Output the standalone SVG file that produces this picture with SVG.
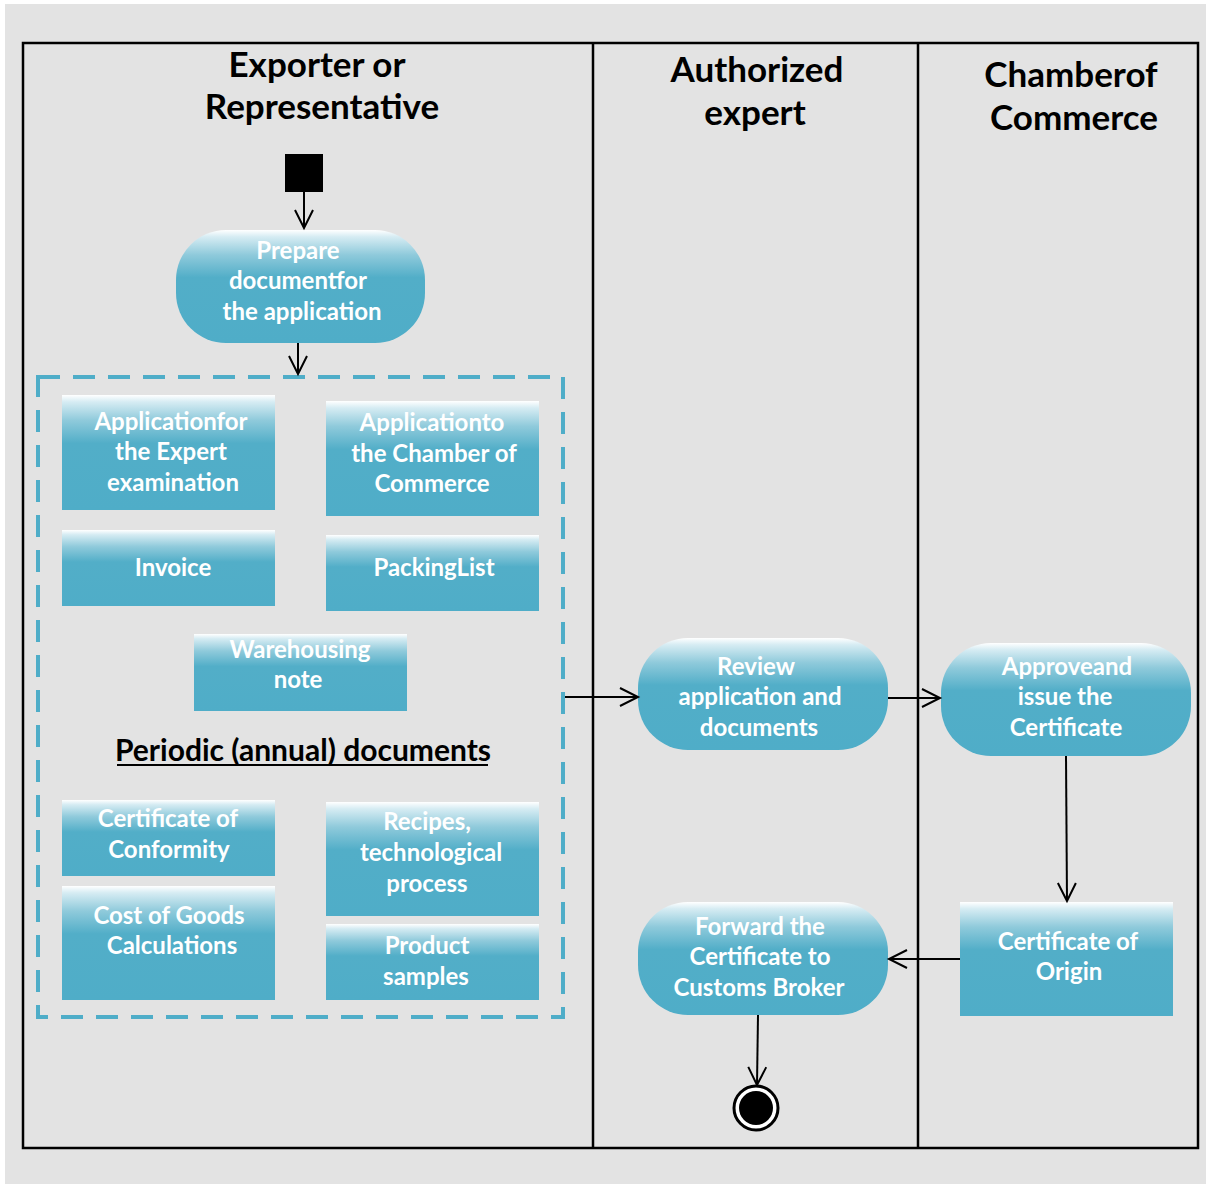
<svg xmlns="http://www.w3.org/2000/svg" width="1206" height="1184" viewBox="0 0 1206 1184">
  <defs>
    <linearGradient id="fillGrad" x1="0" y1="0" x2="0" y2="1">
      <stop offset="0" stop-color="#ffffff"/>
      <stop offset="0.06" stop-color="#d6ecf3"/>
      <stop offset="0.22" stop-color="#8fcadb"/>
      <stop offset="0.42" stop-color="#52aec8"/>
      <stop offset="1" stop-color="#4fadc8"/>
    </linearGradient>
    <marker id="arrow" markerUnits="userSpaceOnUse" markerWidth="24" markerHeight="24" refX="19" refY="10" orient="auto">
      <path d="M1,1 L19,10 L1,19" fill="none" stroke="#000" stroke-width="2"/>
    </marker>
    <style>
      .title { font-family: Lato, "Open Sans", "Liberation Sans", sans-serif; font-weight: 700; font-size: 35px; fill: #000; text-anchor: middle; }
      .lbl { font-family: Lato, "Open Sans", "Liberation Sans", sans-serif; font-weight: 700; font-size: 24px; fill: #ffffff; text-anchor: middle; }
      .act { fill: url(#fillGrad); }
      .doc { fill: url(#fillGrad); }
      .edge { fill: none; stroke: #000; stroke-width: 2; marker-end: url(#arrow); }
      .lane { fill: none; stroke: #000; stroke-width: 2.5; }
    </style>
  </defs>

  <!-- canvas -->
  <rect x="5" y="4" width="1201" height="1180" fill="#e3e3e3"/>

  <!-- swimlanes -->
  <g id="lanes">
    <rect class="lane" x="23" y="43" width="1175" height="1105"/>
    <line class="lane" x1="593" y1="43" x2="593" y2="1148"/>
    <line class="lane" x1="918" y1="43" x2="918" y2="1148"/>
    <text class="title" x="317" y="77">Exporter or</text>
    <text class="title" x="322" y="119">Representative</text>
    <text class="title" x="757" y="82">Authorized</text>
    <text class="title" x="755" y="125">expert</text>
    <text class="title" x="1071" y="87">Chamberof</text>
    <text class="title" x="1074" y="130">Commerce</text>
  </g>

  <!-- start -->
  <g id="start">
    <rect x="285" y="154" width="38" height="38" fill="#000"/>
  </g>

  <g id="prepare">
    <rect class="act" x="176" y="230" width="249" height="113" rx="50" ry="50"/>
    <text class="lbl" x="298" y="259">Prepare</text>
    <text class="lbl" x="298" y="289">documentfor</text>
    <text class="lbl" x="302" y="320">the application</text>
  </g>

  <!-- document package -->
  <g id="documents">
    <rect x="38" y="377" width="525" height="640" fill="none" stroke="#4fadc8" stroke-width="4" stroke-dasharray="22 13"/>

    <g id="doc-expert">
      <rect class="doc" x="62" y="395" width="213" height="115"/>
      <text class="lbl" x="171" y="430">Applicationfor</text>
      <text class="lbl" x="171" y="460">the Expert</text>
      <text class="lbl" x="173" y="491">examination</text>
    </g>
    <g id="doc-chamber">
      <rect class="doc" x="326" y="401" width="213" height="115"/>
      <text class="lbl" x="432" y="431">Applicationto</text>
      <text class="lbl" x="434" y="462">the Chamber of</text>
      <text class="lbl" x="432" y="492">Commerce</text>
    </g>
    <g id="doc-invoice">
      <rect class="doc" x="62" y="530" width="213" height="76"/>
      <text class="lbl" x="173" y="576">Invoice</text>
    </g>
    <g id="doc-packing">
      <rect class="doc" x="326" y="535" width="213" height="76"/>
      <text class="lbl" x="434" y="576">PackingList</text>
    </g>
    <g id="doc-warehouse">
      <rect class="doc" x="194" y="634" width="213" height="77"/>
      <text class="lbl" x="300" y="658">Warehousing</text>
      <text class="lbl" x="298" y="688">note</text>
    </g>

    <text x="303" y="761" font-family="Lato, 'Open Sans', 'Liberation Sans', sans-serif" font-weight="700" font-size="30" fill="#000" text-anchor="middle">Periodic (annual) documents</text>
    <line x1="117" y1="765" x2="488" y2="765" stroke="#000" stroke-width="2"/>

    <g id="doc-conformity">
      <rect class="doc" x="62" y="800" width="213" height="76"/>
      <text class="lbl" x="168" y="827">Certificate of</text>
      <text class="lbl" x="169" y="858">Conformity</text>
    </g>
    <g id="doc-recipes">
      <rect class="doc" x="326" y="802" width="213" height="114"/>
      <text class="lbl" x="427" y="830">Recipes,</text>
      <text class="lbl" x="431" y="861">technological</text>
      <text class="lbl" x="427" y="892">process</text>
    </g>
    <g id="doc-cost">
      <rect class="doc" x="62" y="886" width="213" height="114"/>
      <text class="lbl" x="169" y="924">Cost of Goods</text>
      <text class="lbl" x="172" y="954">Calculations</text>
    </g>
    <g id="doc-samples">
      <rect class="doc" x="326" y="924" width="213" height="76"/>
      <text class="lbl" x="427" y="954">Product</text>
      <text class="lbl" x="426" y="985">samples</text>
    </g>
  </g>

  <g id="review">
    <rect class="act" x="638" y="638" width="250" height="112" rx="50" ry="50"/>
    <text class="lbl" x="756" y="675">Review</text>
    <text class="lbl" x="760" y="705">application and</text>
    <text class="lbl" x="759" y="736">documents</text>
  </g>

  <g id="approve">
    <rect class="act" x="941" y="643" width="250" height="113" rx="50" ry="50"/>
    <text class="lbl" x="1067" y="675">Approveand</text>
    <text class="lbl" x="1065" y="705">issue the</text>
    <text class="lbl" x="1066" y="736">Certificate</text>
  </g>

  <g id="cert-origin">
    <rect class="doc" x="960" y="902" width="213" height="114"/>
    <text class="lbl" x="1068" y="950">Certificate of</text>
    <text class="lbl" x="1069" y="980">Origin</text>
  </g>

  <g id="forward">
    <rect class="act" x="638" y="902" width="250" height="113" rx="50" ry="50"/>
    <text class="lbl" x="760" y="935">Forward the</text>
    <text class="lbl" x="760" y="965">Certificate to</text>
    <text class="lbl" x="759" y="996">Customs Broker</text>
  </g>

  <!-- end -->
  <g id="end">
    <circle cx="756" cy="1108" r="22" fill="#fff" stroke="#000" stroke-width="3"/>
    <circle cx="756" cy="1108" r="17" fill="#000"/>
  </g>

  <!-- connectors -->
  <g id="connectors">
    <line class="edge" x1="304" y1="192" x2="304" y2="228"/>
    <line class="edge" x1="298" y1="343" x2="298" y2="374"/>
    <line class="edge" x1="565" y1="697" x2="638" y2="697"/>
    <line class="edge" x1="888" y1="698" x2="940" y2="698"/>
    <line class="edge" x1="1066" y1="756" x2="1067" y2="901"/>
    <line class="edge" x1="960" y1="959" x2="889" y2="959"/>
    <line class="edge" x1="758" y1="1015" x2="757" y2="1085"/>
  </g>
</svg>
